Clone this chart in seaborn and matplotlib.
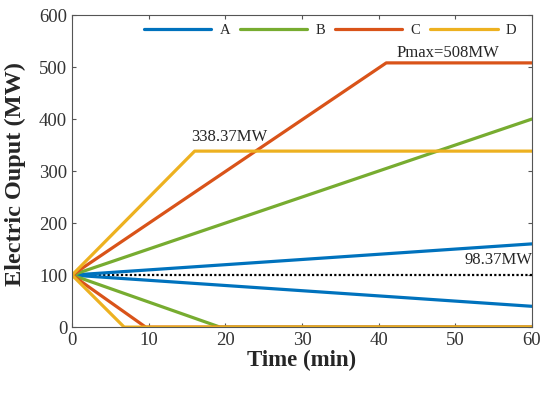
import pandas as pd
import numpy as np
import matplotlib
matplotlib.use("Agg")
import matplotlib.pyplot as plt
import seaborn as sns

# data: each unit has an upward and a downward ramp from 100 MW
series = ["A", "B", "C", "D"]
up_time = [[0, 60], [0, 60], [0, 41, 60], [0, 16, 60]]
up_power = [[100, 160], [100, 400], [100, 508, 508], [100, 338.37, 338.37]]
down_time = [[0, 60], [0, 19.3, 60], [0, 9.6, 60], [0, 6.8, 60]]
down_power = [[100, 40], [100, 0, 0], [100, 0, 0], [100, 0, 0]]
base_time = [0, 60]
base_power = [100, 100]

colors = ["#0072BD", "#77AC30", "#D95319", "#EDB120"]

# build long table
rows = []
for s, ut, up, dt, dp in zip(series, up_time, up_power, down_time, down_power):
    for t, p in zip(ut, up):
        rows.append({"time": t, "power": p, "series": s, "branch": "up"})
    for t, p in zip(dt, dp):
        rows.append({"time": t, "power": p, "series": s, "branch": "down"})
df = pd.DataFrame(rows)

sns.set_style("ticks")
plt.rcParams["font.family"] = ["Liberation Serif", "DejaVu Serif"]

fig = plt.figure(figsize=(5.5, 3.96), dpi=100)
ax = fig.add_axes([0.131, 0.174, 0.836, 0.788])

ax.plot(base_time, base_power, color="black", linestyle=(0, (1, 1)), linewidth=1.6, zorder=1)

sns.lineplot(data=df, x="time", y="power", hue="series", units="branch", estimator=None,
             palette=colors, linewidth=2.3, ax=ax, sort=False, zorder=2)

ax.set_xlim(0, 60)
ax.set_ylim(0, 600)
ax.set_xticks(np.arange(0, 61, 10))
ax.set_yticks(np.arange(0, 601, 100))
ax.tick_params(direction="in", top=True, right=True, labelsize=13.5, length=3, color="#555555",
               labelcolor="#333333")
for sp in ax.spines.values():
    sp.set_color("#555555")
    sp.set_linewidth(0.8)

ax.set_xlabel("Time (min)", fontsize=16.5, fontweight="bold", labelpad=1)
ax.set_ylabel("Electric Ouput (MW)", fontsize=17.5, fontweight="bold", labelpad=2)
ax.yaxis.set_label_coords(-0.1, 0.49)

ax.text(42.4, 527, "Pmax=508MW", fontsize=12, va="center")
ax.text(15.6, 365, "338.37MW", fontsize=12, va="center")
ax.text(60.1, 129, "98.37MW", fontsize=12, ha="right", va="center")

ax.legend(ncol=4, loc="upper right", frameon=False, fontsize=10.5, handlelength=4.6,
          handletextpad=0.55, columnspacing=0.7, bbox_to_anchor=(0.985, 1.0),
          borderaxespad=0.2)

fig.savefig("out.png", dpi=100)
